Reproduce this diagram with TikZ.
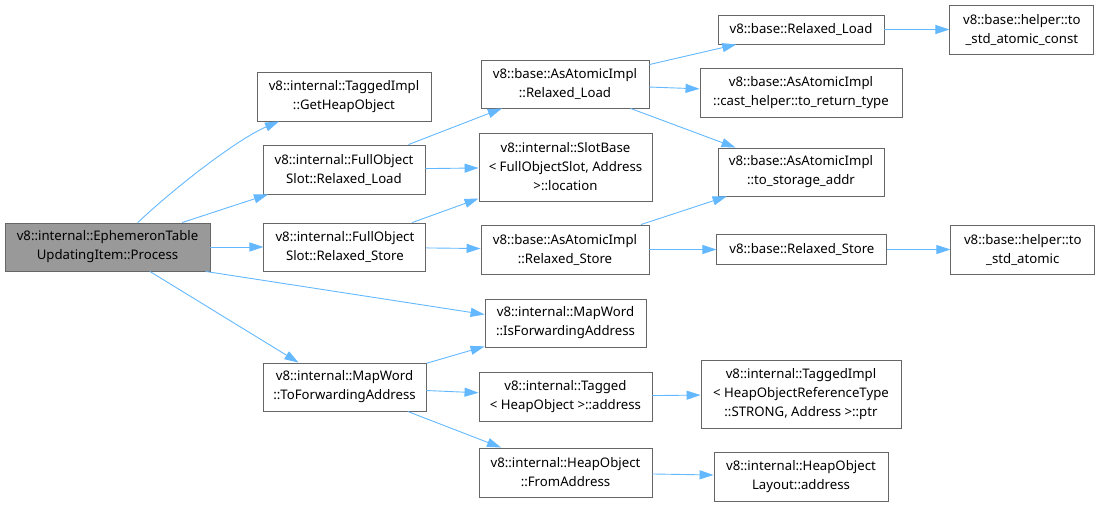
\documentclass[tikz,border=0pt]{standalone}
\usepackage{fontspec}
\setmainfont{Noto Sans}
\usetikzlibrary{positioning,arrows.meta}
\definecolor{edgeblue}{HTML}{63B8FF}
\definecolor{boxline}{HTML}{666666}
\definecolor{curfill}{HTML}{999999}
\tikzset{
  fn/.style={draw=boxline, fill=white, line width=0.9pt, align=center, inner sep=2pt, font=\fontsize{13.2}{19}\selectfont},
  cur/.style={fn, fill=curfill},
  call/.style={-{Triangle[length=14pt,width=9pt]}, edgeblue, line width=0.9pt},
}

\begin{document}
\begin{tikzpicture}[x=1pt,y=-1pt]
\useasboundingbox (0,0) rectangle (1098,506);
% the function itself
\node[cur, minimum width=205pt, minimum height=48pt] (proc) at (107.5,247) {v8::internal::EphemeronTable\\UpdatingItem::Process};
% first level
\node[fn, minimum width=174pt, minimum height=49pt] (getheap) at (344,96.5) {v8::internal::TaggedImpl\\::GetHeapObject};
\node[fn, minimum width=162pt, minimum height=49pt] (fosload) at (344,169.5) {v8::internal::FullObject\\Slot::Relaxed\_Load};
\node[fn, minimum width=162pt, minimum height=48pt, right=53pt of proc] (fosstore) {v8::internal::FullObject\\Slot::Relaxed\_Store};
\node[fn, minimum width=163pt, minimum height=48pt] (toforward) at (344.5,387) {v8::internal::MapWord\\::ToForwardingAddress};
% second level
\node[fn, minimum width=168pt, minimum height=48pt] (aaload) at (565,84) {v8::base::AsAtomicImpl\\::Relaxed\_Load};
\node[fn, minimum width=173pt, minimum height=68pt] (slotloc) at (565.5,167) {v8::internal::SlotBase\\< FullObjectSlot, Address\\>::location};
\node[fn, minimum width=168pt, minimum height=49pt] (aastore) at (565,249.5) {v8::base::AsAtomicImpl\\::Relaxed\_Store};
\node[fn, minimum width=161pt, minimum height=48pt] (isfwd) at (565.5,323) {v8::internal::MapWord\\::IsForwardingAddress};
\node[fn, minimum width=173pt, minimum height=49pt] (tagaddr) at (565.5,396.5) {v8::internal::Tagged\\< HeapObject >::address};
\node[fn, minimum width=173pt, minimum height=49pt] (fromaddr) at (565.5,472.5) {v8::internal::HeapObject\\::FromAddress};
% third level
\node[fn, minimum width=166pt, minimum height=29pt] (bload) at (801,29.5) {v8::base::Relaxed\_Load};
\node[fn, minimum width=202pt, minimum height=49pt] (casthelper) at (801,92.5) {v8::base::AsAtomicImpl\\::cast\_helper::to\_return\_type};
\node[fn, minimum width=166pt, minimum height=48pt] (storage) at (801,172) {v8::base::AsAtomicImpl\\::to\_storage\_addr};
\node[fn, minimum width=170pt, minimum height=30pt, right=67pt of aastore] (bstore) {v8::base::Relaxed\_Store};
\node[fn, minimum width=200pt, minimum height=68pt] (implptr) at (801,394) {v8::internal::TaggedImpl\\< HeapObjectReferenceType\\::STRONG, Address >::ptr};
\node[fn, minimum width=174pt, minimum height=49pt] (layout) at (801,476.5) {v8::internal::HeapObject\\Layout::address};
% helpers
\node[fn, minimum width=144pt, minimum height=49pt, right=65pt of bload] (atomconst) {v8::base::helper::to\\\_std\_atomic\_const};
\node[fn, minimum width=144pt, minimum height=49pt, right=63pt of bstore] (atomic) {v8::base::helper::to\\\_std\_atomic};
% calls
\draw[call] (proc.39) .. controls +(45,-42) and +(-38,16) .. (getheap.201);
\draw[call] (proc) -- (fosload);
\draw[call] (proc) -- (fosstore);
\draw[call] (proc.-14) -- (isfwd.174);
\draw[call] (proc.-30) -- (toforward.152);
\draw[call] (fosload) -- (aaload);
\draw[call] (fosload) -- (slotloc);
\draw[call] (fosstore) -- (slotloc);
\draw[call] (fosstore) -- (aastore);
\draw[call] (aaload) -- (bload);
\draw[call] (aaload) -- (casthelper);
\draw[call] (aaload) -- (storage);
\draw[call] (aastore) -- (storage);
\draw[call] (aastore) -- (bstore);
\draw[call] (bload) -- (atomconst);
\draw[call] (bstore) -- (atomic);
\draw[call] (toforward) -- (isfwd);
\draw[call] (toforward) -- (tagaddr);
\draw[call] (toforward) -- (fromaddr);
\draw[call] (tagaddr) -- (implptr);
\draw[call] (fromaddr) -- (layout);
\end{tikzpicture}
\end{document}
